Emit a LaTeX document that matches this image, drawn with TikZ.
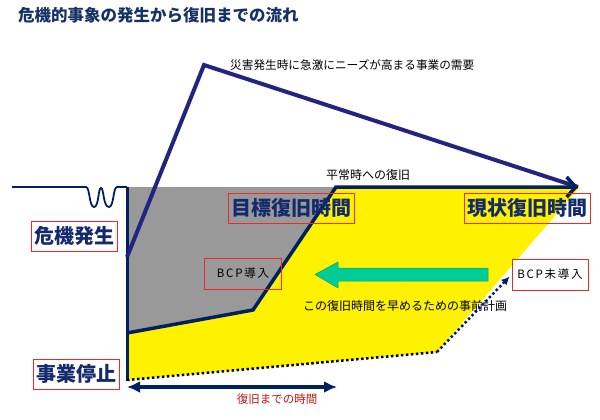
\documentclass[tikz,border=0pt]{standalone}
\usepackage{fontspec}
\setmainfont{Noto Sans CJK JP}
\usepackage{tikz}
\usetikzlibrary{calc,shapes,arrows,arrows.meta}

\definecolor{navy}{RGB}{0,32,96}
\definecolor{demand}{RGB}{35,35,130}
\definecolor{titleblue}{RGB}{22,50,100}
\definecolor{labelblue}{RGB}{20,42,110}
\definecolor{areagray}{RGB}{153,153,153}
\definecolor{plangreen}{RGB}{0,204,153}
\definecolor{tagred}{RGB}{240,40,40}
\definecolor{timered}{RGB}{200,20,20}

\begin{document}
\begin{tikzpicture}[x=1pt,y=-1pt,
        bigtag/.style={draw=tagred,line width=0.8pt,inner xsep=3pt,minimum height=30pt,
            font=\fontsize{20}{22}\selectfont\bfseries,text=labelblue},
        smalltag/.style={draw=tagred,line width=0.8pt,minimum width=77pt,minimum height=31pt,
            font=\fontsize{11.5}{13}\selectfont\addfontfeature{LetterSpace=15}},
        note/.style={inner sep=0pt,font=\fontsize{12}{14}\selectfont}]
        \useasboundingbox (0,0) rectangle (600,420);
        \node[anchor=west,inner sep=0pt,text=titleblue,font=\fontsize{16.5}{18}\selectfont\bfseries]
            (title) at (18,15) {危機的事象の発生から復旧までの流れ};
        \coordinate (start) at (12,187);
        \coordinate (top) at (127,187);
        \coordinate (stop) at (127,381);
        \coordinate (rise) at (127,257);
        \coordinate (peak) at (204,65);
        \coordinate (tip) at (578,187);
        \coordinate (bcpbase) at (127,333);
        \coordinate (bcpknee) at (253,310);
        \coordinate (bcpback) at (336,187);
        \coordinate (oldtop) at (580,187);
        \coordinate (oldknee) at (437,352);
        \coordinate (oldbase) at (127,380);
        \coordinate (tstart) at (127,387);
        \coordinate (tend) at (337,387);
        \fill[areagray] (top) -- (bcpback) -- (bcpknee) -- (bcpbase) -- cycle;
        \fill[yellow] (bcpbase) -- (bcpknee) -- (bcpback) -- (oldtop) -- (oldknee) -- (oldbase) -- cycle;
        \draw[navy,line width=1.8pt] (start) -- (86,187)
            .. controls (90,187) and (89,207) .. (94,207)
            .. controls (99,207) and (98,188) .. (101,188)
            .. controls (104,188) and (103,207) .. (109,207)
            .. controls (114,207) and (113,187) .. (117,187) -- (top);
        \draw[navy,line width=3pt] (top) -- (stop);
        \draw[demand,line width=4pt] (rise) -- (peak) -- (tip);
        \draw[navy,line width=3.5pt,-{Straight Barb[length=9pt,width=20pt]}]
            (bcpbase) -- (bcpknee) -- (bcpback) -- (tip);
        \draw[black,line width=2.5pt,dash pattern=on 2.5pt off 2.5pt] (oldbase) -- (oldknee);
        \filldraw[fill=plangreen,draw=plangreen!80!black,line width=0.5pt]
            (488,268) -- (338,268) -- (338,262) -- (315,274.5) -- (338,288) -- (338,281) -- (488,281) -- cycle;
        \draw[navy,line width=4pt,{Latex[length=13pt,width=12pt]}-{Latex[length=13pt,width=12pt]}]
            (tstart) -- (tend);
        \node[note,anchor=west,font=\fontsize{11.65}{13}\selectfont] (demandtxt) at (230,65) {災害発生時に急激にニーズが高まる事業の需要};
        \node[note] (normaltxt) at (368,175) {平常時への復旧};
        \node[note] (plantxt) at (405,306) {この復旧時間を早めるための事前計画};
        \node[note,text=timered,font=\fontsize{11.5}{13}\selectfont] (timetxt) at (277,399) {復旧までの時間};
        \node[bigtag] (crisis) at (74.5,236) {危機発生};
        \node[bigtag] (halt) at (76.5,374) {事業停止};
        \node[bigtag] (target) at (291,208) {目標復旧時間};
        \node[bigtag] (current) at (527.5,208) {現状復旧時間};
        \node[smalltag] (bcpin) at (243,273.5) {BCP導入};
        \node[smalltag,fill=white,minimum width=76pt] (bcpout) at (550,274.5) {BCP未導入};
        \draw[navy,line width=2.5pt,dash pattern=on 2.5pt off 2.5pt,shorten >=3pt,-{Latex[length=8pt,width=8pt]}]
            (oldknee) -- (bcpout.west);
    \end{tikzpicture}
\end{document}
